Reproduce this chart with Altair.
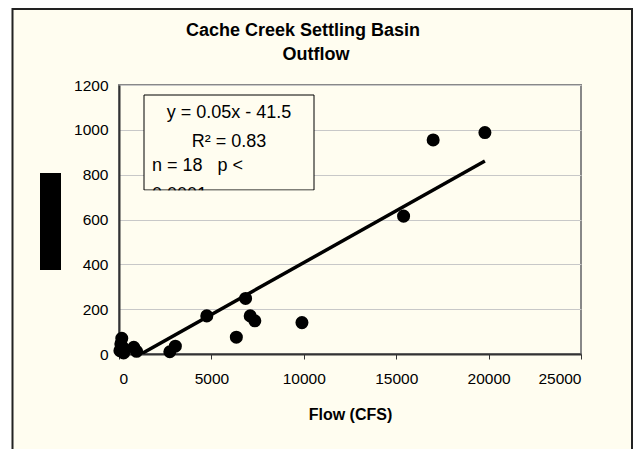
import altair as alt
import pandas as pd

# ---- data ----
flow = [50, 150, 200, 100, 800, 950, 2750, 3050, 4750, 6350, 6850, 7100, 7350, 9900, 15400, 17000, 19800, 250]
conc = [15, 70, 30, 45, 30, 12, 10, 35, 170, 75, 248, 170, 148, 140, 615, 955, 988, 5]
x_ticks = [0, 5000, 10000, 15000, 20000, 25000]
y_ticks = [0, 200, 400, 600, 800, 1000, 1200]
title_lines = ["Cache Creek Settling Basin", "Outflow"]
x_title = "Flow (CFS)"
eq_lines = ["y = 0.05x - 41.5", "R\u00b2 = 0.83"]
stat_lines = ["n = 18\u00a0\u00a0\u00a0p <", "0.0001"]

df = pd.DataFrame({"flow": flow, "conc": conc})
one = pd.DataFrame({"k": [0]})

FONT = "Liberation Sans"
BG = "#fffdf0"

x_enc = alt.X(
    "flow:Q",
    scale=alt.Scale(domain=[0, 25000], nice=False, zero=True),
    axis=alt.Axis(values=x_ticks, title=x_title, grid=False, ticks=True, tickSize=5,
                  labelPadding=12, titlePadding=20, format="d"),
)
y_enc = alt.Y(
    "conc:Q",
    scale=alt.Scale(domain=[0, 1200], nice=False),
    axis=alt.Axis(values=y_ticks, title=None, grid=True, ticks=False, labelPadding=11, format="d"),
)

points = alt.Chart(df).mark_circle(size=170, color="black", opacity=1).encode(x=x_enc, y=y_enc)

trend = (
    alt.Chart(df)
    .transform_regression("flow", "conc")
    .mark_line(color="black", strokeWidth=3.5, clip=True)
    .encode(x="flow:Q", y="conc:Q")
)

deco = alt.Chart(one)


def label(text, x, y, size, align="center", weight="normal"):
    return deco.mark_text(text=text, font=FONT, fontSize=size, fontWeight=weight,
                          align=align, baseline="middle", color="black").encode(
        x=alt.value(x), y=alt.value(y))


frame = deco.mark_rect(filled=False, stroke="#222222", strokeWidth=2).encode(
    x=alt.value(-106.5), x2=alt.value(513), y=alt.value(-76), y2=alt.value(420)
)
white_strip = deco.mark_rect(color="white").encode(
    x=alt.value(-112), x2=alt.value(-107.5), y=alt.value(-80), y2=alt.value(420)
)
black_box = deco.mark_rect(color="black").encode(
    x=alt.value(-79), x2=alt.value(-58), y=alt.value(88), y2=alt.value(185)
)
ann_box = deco.mark_rect(fill=BG, stroke="black", strokeWidth=1).encode(
    x=alt.value(25), x2=alt.value(195), y=alt.value(10), y2=alt.value(105)
)
title1 = label(title_lines[0], 184, -54, 18, weight="bold")
title2 = label(title_lines[1], 197, -30, 18, weight="bold")
eq1 = label(eq_lines[0], 110, 28, 18)
eq2 = label(eq_lines[1], 110, 57, 18)
st1 = label(stat_lines[0], 33, 81, 18, align="left")
st2 = label(stat_lines[1], 33, 110, 18, align="left")
cover = deco.mark_rect(color=BG).encode(
    x=alt.value(20), x2=alt.value(200), y=alt.value(105.6), y2=alt.value(124)
)

chart = (
    alt.layer(white_strip, frame, black_box, title1, title2, ann_box, eq1, eq2, st1, st2,
              cover, trend, points)
    .properties(
        width=462,
        height=269,
        autosize=alt.AutoSizeParams(type="none"),
        padding={"left": 111, "top": 77, "right": 52, "bottom": 95},
        background=BG,
    )
    .configure_view(stroke="#888888", strokeWidth=2, fill=BG)
    .configure_axis(
        labelFont=FONT, labelFontSize=15.5, labelColor="black",
        titleFont=FONT, titleFontSize=16, titleFontWeight="bold", titleColor="black",
        domainColor="#333333", domainWidth=2, tickColor="#333333",
        gridColor="#c8c8c8", gridWidth=1,
    )
)

chart.save("out.html", embed_options={"renderer": "svg", "actions": False})
